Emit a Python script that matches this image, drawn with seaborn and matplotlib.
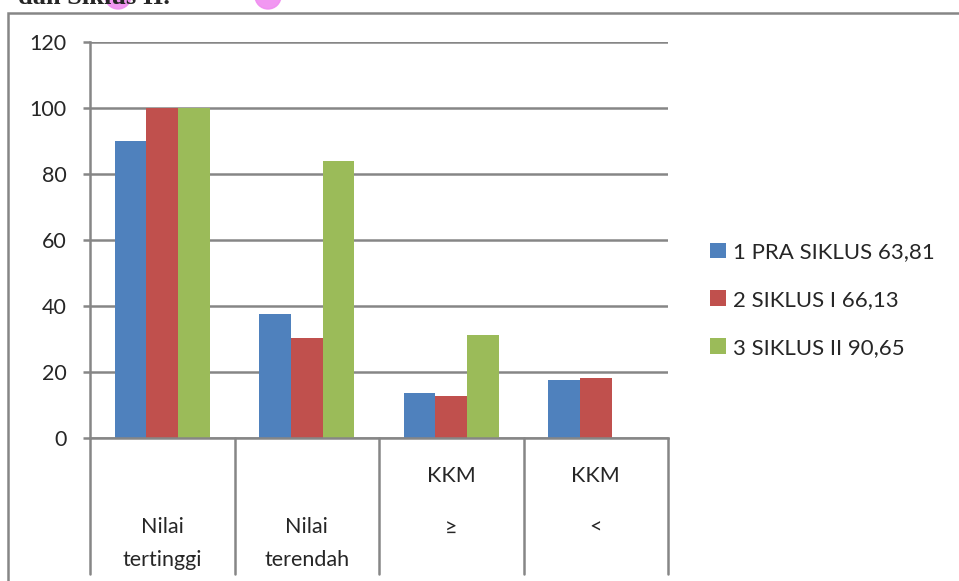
import numpy as np
import pandas as pd
import matplotlib.pyplot as plt
import seaborn as sns
from matplotlib.patches import Rectangle, Ellipse
from matplotlib.transforms import blended_transform_factory

# data
categories = ["Nilai\ntertinggi", "Nilai\nterendah", "KKM\n≥", "KKM\n<"]
series = ["1 PRA SIKLUS 63,81", "2 SIKLUS I 66,13", "3 SIKLUS II 90,65"]
pra_siklus = [90, 37.7, 13.5, 17.5]
siklus_1 = [100, 30.4, 12.6, 18.3]
siklus_2 = [100, 83.8, 31.3, np.nan]
colors = ["#4F81BD", "#C0504D", "#9BBB59"]

rows = []
for name, vals in zip(series, [pra_siklus, siklus_1, siklus_2]):
    for cat, v in zip(categories, vals):
        rows.append({"kategori": cat, "siklus": name, "nilai": v})
df = pd.DataFrame(rows)

sns.set_style("white")
plt.rcParams["font.family"] = ["Lato", "DejaVu Sans"]
grey = "#868686"

W, H = 959, 581
fig = plt.figure(figsize=(W / 100, H / 100), dpi=100)
ax = fig.add_axes([90 / W, 1 - 438 / H, (668 - 90) / W, (438 - 42) / H])

sns.barplot(data=df, x="kategori", y="nilai", hue="siklus", order=categories,
            hue_order=series, palette=colors, width=0.66, saturation=1,
            linewidth=0, ax=ax)

ax.set_xlim(-0.5, len(categories) - 0.5)
ax.set_ylim(0, 120)
ax.set_yticks(range(0, 121, 20))
ax.set_axisbelow(True)
ax.yaxis.grid(True, color=grey, lw=1.8)
ax.xaxis.grid(False)
for s in ["top", "right"]:
    ax.spines[s].set_visible(False)
for s in ["left", "bottom"]:
    ax.spines[s].set_color(grey)
    ax.spines[s].set_linewidth(1.8)
ax.tick_params(axis="y", direction="out", length=5, width=1.8, color=grey,
               labelsize=15.5, pad=12, left=True)
ax.tick_params(axis="x", length=0, labelbottom=False)
ax.set_xlabel("")
ax.set_ylabel("")

# category table below the axis
trans = blended_transform_factory(ax.transData, ax.transAxes)
for xb in np.arange(-0.5, len(categories), 1.0):
    ax.plot([xb, xb], [0, -0.343], transform=trans, color=grey, lw=1.8,
            clip_on=False)
for i, label in enumerate(categories):
    lines = label.split("\n")
    ys = [-0.225, -0.308] if lines[0] == "Nilai" else [-0.096, -0.227]
    for line, y in zip(lines, ys):
        ax.text(i, y, line, transform=trans, ha="center", va="center",
                fontsize=15.5)

handles, labels = ax.get_legend_handles_labels()
ax.legend(handles, labels, loc="center left",
          bbox_to_anchor=(710 / W, 1 - 300 / H), bbox_transform=fig.transFigure,
          frameon=False, handlelength=0.72, handleheight=0.72,
          handletextpad=0.3, labelspacing=1.25, fontsize=16,
          borderpad=0, borderaxespad=0)

# chart border and cropped caption above it
fig.add_artist(Rectangle((8 / W, -0.1), 1.2, (1 - 13 / H) + 0.1,
                         transform=fig.transFigure, fill=False,
                         edgecolor=grey, lw=1.8))
fig.text(18 / W, 1 - 4 / H, "dan Siklus II.", fontsize=19,
         family="Liberation Serif", weight="bold", va="baseline")
for cx in [118, 268]:
    fig.add_artist(Ellipse((cx / W, 1 + 4 / H), 26 / W, 26 / H,
                           transform=fig.transFigure, color="#F08CF0",
                           alpha=0.9))

fig.savefig("out.png", dpi=100)
